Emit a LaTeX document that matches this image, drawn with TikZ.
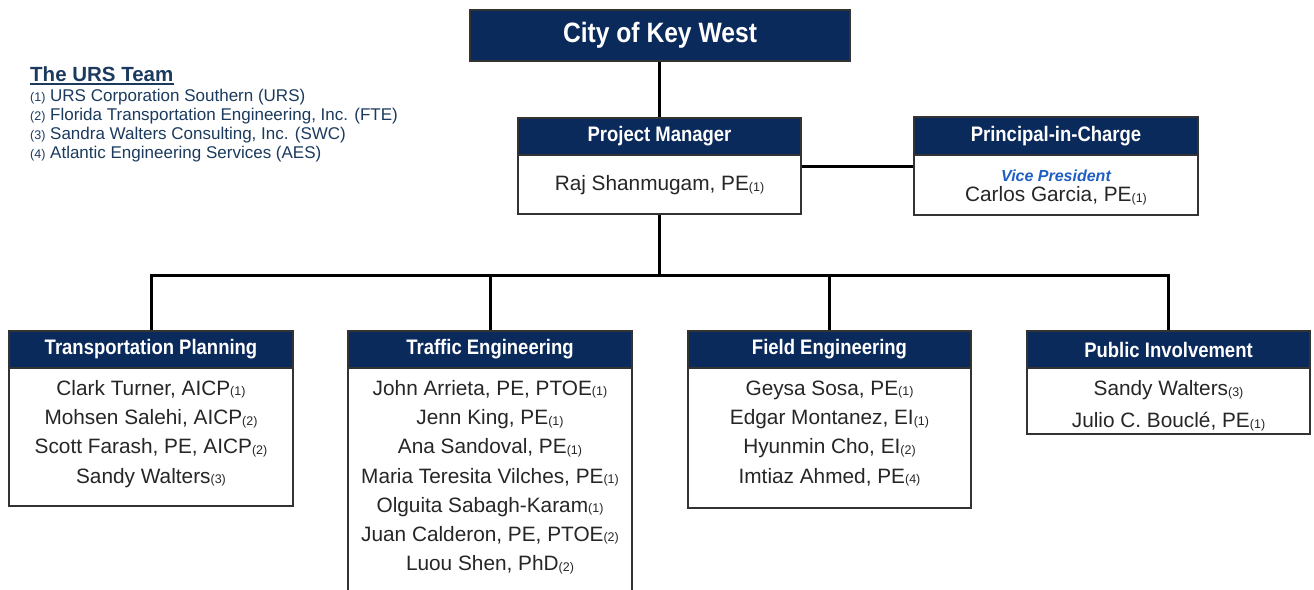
\documentclass[tikz,border=0pt]{standalone}
\usepackage{fontspec}
\setmainfont{Liberation Sans}
\newfontfamily\condfont{Liberation Sans Bold}[FakeStretch=0.88]
\definecolor{navy}{HTML}{0B2A5C}
\definecolor{boxgray}{HTML}{333333}
\definecolor{ink}{HTML}{262626}
\definecolor{vpblue}{HTML}{1F5FC4}
\definecolor{legendblue}{HTML}{1B3A5E}
% firm number after a name
\newcommand\affil[1]{\raisebox{-0.5pt}{\fontsize{12.5}{12.5}\selectfont(#1)}}
\newcommand\legaffil[1]{{\fontsize{12.5}{12.5}\selectfont(#1)}}
\begin{document}
\begin{tikzpicture}[x=1pt,y=-1pt,
  wire/.style={line width=3pt, draw=black},
  panel/.style={draw=boxgray, line width=1.8pt, fill=white, inner sep=0pt},
  head/.style={draw=boxgray, line width=1.8pt, fill=navy, text=white, inner sep=0pt,
    anchor=north, minimum height=37pt, font=\condfont\fontsize{21}{21}\selectfont},
  names/.style={align=center, anchor=base, inner sep=0pt, text=ink,
    font=\fontsize{20.8}{29.2}\selectfont},
  legend/.style={align=left, anchor=base west, inner sep=0pt, text=legendblue},
]
\clip (0,0) rectangle (1314,589);
\fill[white] (0,0) rectangle (1314,589);

% legend (a multi-line node sits on the baseline of its last line)
\node[legend, font=\bfseries\fontsize{20.5}{20.5}\selectfont] (legtitle) at (30,81) {The URS Team};
\draw[legendblue, line width=1.6pt] ([yshift=-3pt]legtitle.base west) -- ([yshift=-3pt]legtitle.base east);
\node[legend, font=\fontsize{17}{19}\selectfont] (legitems) at (30,158)
  {\legaffil{1} URS Corporation Southern (URS)\\
   \legaffil{2} Florida Transportation Engineering, Inc. (FTE)\\
   \legaffil{3} Sandra Walters Consulting, Inc. (SWC)\\
   \legaffil{4} Atlantic Engineering Services (AES)};

% client
\node[draw=boxgray, line width=1.8pt, fill=navy, text=white, inner sep=0pt,
  minimum width=380pt, minimum height=51pt, font=\condfont\fontsize{28}{28}\selectfont]
  (city) at (660,35.5) {City of Key West};

% project manager
\node[panel, minimum width=283pt, minimum height=96pt] (pm) at (659.5,166) {};
\node[head, minimum width=283pt] (pmh) at (pm.north) {Project Manager};
\node[names] (pmn) at ([shift={(0,35)}]pmh.south) {Raj Shanmugam, PE\affil{1}};

% principal-in-charge
\node[panel, minimum width=284pt, minimum height=98pt] (pic) at (1056,166) {};
\node[head, minimum width=284pt, minimum height=38pt] (pich) at (pic.north) {Principal-in-Charge};
\node[names, font=\fontsize{20.8}{20.5}\selectfont] (picn) at ([shift={(0,46)}]pich.south)
  {\textcolor{vpblue}{\fontsize{16}{16}\selectfont\bfseries\itshape Vice President}\\
   Carlos Garcia, PE\affil{1}};

% disciplines
\node[panel, minimum width=284pt, minimum height=175pt] (tp) at (151,418.5) {};
\node[head, minimum width=284pt] (tph) at (tp.north) {Transportation Planning};
\node[names] (tpn) at ([shift={(0,114.1)}]tph.south)
  {Clark Turner, AICP\affil{1}\\
   Mohsen Salehi, AICP\affil{2}\\
   Scott Farash, PE, AICP\affil{2}\\
   Sandy Walters\affil{3}};

\node[panel, minimum width=284pt, minimum height=289pt] (te) at (490,475.5) {};
\node[head, minimum width=284pt] (teh) at (te.north) {Traffic Engineering};
\node[names] (ten) at ([shift={(0,201.7)}]teh.south)
  {John Arrieta, PE, PTOE\affil{1}\\
   Jenn King, PE\affil{1}\\
   Ana Sandoval, PE\affil{1}\\
   Maria Teresita Vilches, PE\affil{1}\\
   Olguita Sabagh-Karam\affil{1}\\
   Juan Calderon, PE, PTOE\affil{2}\\
   Luou Shen, PhD\affil{2}};

\node[panel, minimum width=283pt, minimum height=177pt] (fe) at (829.5,419.5) {};
\node[head, minimum width=283pt] (feh) at (fe.north) {Field Engineering};
\node[names] (fen) at ([shift={(0,114.1)}]feh.south)
  {Geysa Sosa, PE\affil{1}\\
   Edgar Montanez, EI\affil{1}\\
   Hyunmin Cho, EI\affil{2}\\
   Imtiaz Ahmed, PE\affil{4}};

\node[panel, minimum width=283pt, minimum height=103pt] (pi) at (1168.5,382.5) {};
\node[head, minimum width=283pt] (pih) at (pi.north) {Public Involvement};
\node[names, font=\fontsize{20.8}{32}\selectfont] (pin) at ([shift={(0,59)}]pih.south)
  {Sandy Walters\affil{3}\\
   Julio C. Bouclé, PE\affil{1}};

% connectors
\coordinate (bus) at (659.5,275);
\draw[wire] (city.south -| pmh.north) -- (pmh.north);
\draw[wire] (pm.east) -- (pic.west);
\draw[wire] (pm.south) -- (bus);
\draw[wire] (tph.north) -- (tph.north |- bus) -- (pih.north |- bus) -- (pih.north);
\draw[wire] (teh.north) -- (teh.north |- bus);
\draw[wire] (feh.north) -- (feh.north |- bus);
\end{tikzpicture}
\end{document}
